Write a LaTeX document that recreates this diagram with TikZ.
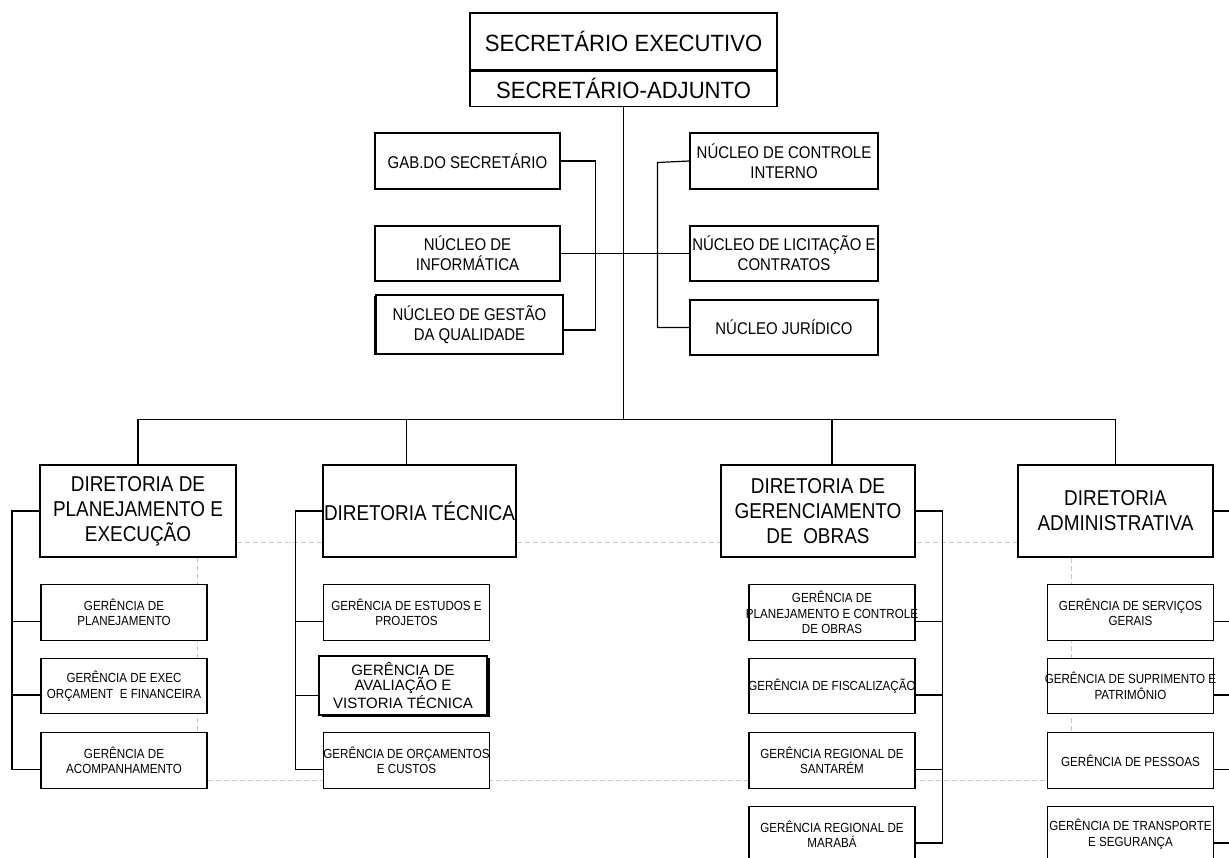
\documentclass[tikz,border=0pt]{standalone}
\usepackage{fontspec}
\setmainfont{Liberation Sans}
\newfontfamily\fTop[FakeStretch=0.94]{Liberation Sans}
\newfontfamily\fNar[FakeStretch=0.88]{Liberation Sans}
\newfontfamily\fAva{Liberation Sans}
\newcommand{\fitln}[1]{\makebox[150pt]{#1}}
\usetikzlibrary{calc,backgrounds,shadows}
\begin{document}
\begin{tikzpicture}[x=1pt,y=-1pt,
  box/.style={draw, fill=white, line width=1.2pt, align=center, inner sep=0pt},
  topbox/.style={box, minimum width=307pt, font={\fontsize{23.5}{26}\selectfont\fTop}},
  nucbox/.style={box, font={\fontsize{17}{20}\selectfont\fNar}},
  dirbox/.style={box, minimum height=92pt, font={\fontsize{21.5}{25}\selectfont\fNar}},
  gerbox/.style={box, minimum width=166pt, minimum height=55.5pt, font={\fontsize{13.2}{15.5}\selectfont\fNar}},
  heavy/.style={line width=1.8pt},
  link/.style={draw, line width=1.2pt},
  guide/.style={draw=black!22, line width=0.7pt, dash pattern=on 5pt off 3pt},
]
\useasboundingbox (0,0) rectangle (1229,858);
\clip (0,0) rectangle (1229,858);

% top
\node[topbox, minimum height=57pt] (sexe) at (623.5,41.5) {SECRETÁRIO EXECUTIVO};
\node[topbox, minimum height=35pt, anchor=north] (sadj) at (sexe.south) {SECRETÁRIO-ADJUNTO};

% nucleos
\node[nucbox, minimum width=185pt, minimum height=56pt] (gab) at (467.5,161) {GAB.DO SECRETÁRIO};
\node[nucbox, minimum width=185pt, minimum height=55pt] (info) at (467.5,253.5) {NÚCLEO DE\\INFORMÁTICA};
\node[nucbox, heavy, minimum width=187pt, minimum height=59pt,
      drop shadow={shadow xshift=-2pt, shadow yshift=-1.5pt, fill=black, opacity=1}] (gest) at (469.5,324.5) {NÚCLEO DE GESTÃO\\DA QUALIDADE};
\node[nucbox, minimum width=188pt, minimum height=56pt] (ctrl) at (784,161) {NÚCLEO DE CONTROLE\\INTERNO};
\node[nucbox, minimum width=188pt, minimum height=55pt] (lic) at (784,253.5) {NÚCLEO DE LICITAÇÃO E\\CONTRATOS};
\node[nucbox, minimum width=188pt, minimum height=55pt] (jur) at (784,327.5) {NÚCLEO JURÍDICO};

% diretorias
\node[dirbox, minimum width=196pt] (dplan) at (138,511) {DIRETORIA DE\\PLANEJAMENTO E\\EXECUÇÃO};
\node[dirbox, minimum width=193pt] (dtec) at (419.5,511) {DIRETORIA TÉCNICA};
\node[dirbox, minimum width=194pt] (dger) at (818,511) {DIRETORIA DE\\GERENCIAMENTO\\DE~~OBRAS};
\node[dirbox, minimum width=195pt] (dadm) at (1115.5,511) {DIRETORIA\\ADMINISTRATIVA};

% gerencias - planejamento
\node[gerbox] (gplan) at (124,612.5) {GERÊNCIA DE\\PLANEJAMENTO};
\node[gerbox] (gexec) at (124,686) {GERÊNCIA DE EXEC\\\fitln{ORÇAMENT~~E FINANCEIRA}};
\node[gerbox] (gacomp) at (124,760.5) {GERÊNCIA DE\\ACOMPANHAMENTO};
% tecnica
\node[gerbox] (gestud) at (406.5,612.5) {\fitln{GERÊNCIA DE ESTUDOS E}\\PROJETOS};
\node[gerbox, heavy, minimum width=168pt, minimum height=59pt,
      font={\fontsize{15}{15}\selectfont\fAva},
      drop shadow={shadow xshift=2.5pt, shadow yshift=-1.5pt, fill=black, opacity=1}] (gaval) at (403,685.5) {GERÊNCIA DE\\AVALIAÇÃO E\\VISTORIA TÉCNICA};
\node[gerbox] (gorc) at (406.5,760.5) {\fitln{GERÊNCIA DE ORÇAMENTOS}\\E CUSTOS};
% obras
\node[gerbox] (gpco) at (832,612.5) {GERÊNCIA DE\\\fitln{PLANEJAMENTO E CONTROLE}\\DE OBRAS};
\node[gerbox] (gfisc) at (832,686) {\fitln{GERÊNCIA DE FISCALIZAÇÃO}};
\node[gerbox] (gsant) at (832,760.5) {GERÊNCIA REGIONAL DE\\SANTARÉM};
\node[gerbox] (gmar) at (832,834) {GERÊNCIA REGIONAL DE\\MARABÁ};
% administrativa
\node[gerbox] (gserv) at (1130.5,612.5) {GERÊNCIA DE SERVIÇOS\\GERAIS};
\node[gerbox] (gsup) at (1130.5,686) {\fitln{GERÊNCIA DE SUPRIMENTO E}\\PATRIMÔNIO};
\node[gerbox] (gpess) at (1130.5,760.5) {GERÊNCIA DE PESSOAS};
\node[gerbox] (gtra) at (1130.5,834) {\fitln{GERÊNCIA DE TRANSPORTE}\\E SEGURANÇA};

% guides (background)
\begin{pgfonlayer}{background}
\draw[guide] ([yshift=15pt]dplan.south east) -- ([yshift=15pt]dadm.south west);
\draw[guide] ([xshift=-39pt]dplan.south east) -- ([xshift=-39pt]dplan.south east |- gacomp.north);
\draw[guide] ([xshift=54pt]dadm.south west) -- ([xshift=54pt]dadm.south west |- gpess.north);
\draw[guide] ([yshift=-19.5pt]gacomp.east) -- ([yshift=-19.5pt]gpess.west);
\end{pgfonlayer}

% main trunk
\path (sadj.south) ++(0,313) coordinate (bus);
\draw[link] (sadj.south) -- (bus);
\draw[link] (dplan.north) |- (bus) -| (dadm.north);
\coordinate (dtecN) at ([xshift=-13pt]dtec.north);
\coordinate (dgerN) at ([xshift=14pt]dger.north);
\draw[link] (dtecN) -- (dtecN |- bus);
\draw[link] (dgerN) -- (dgerN |- bus);

% nucleo links
\draw[link] (gab.east) -- ++(35,0) |- ([yshift=-5.5pt]gest.east);
\draw[link] (info.east) -- (lic.west);
\draw[link] (ctrl.west) -- ++(-32,1.5) |- (jur.west);

% planejamento
\draw[link] (dplan.west) -- ++(-27.5,0) |- ([yshift=-9pt]gacomp.west);
\draw[link] ([yshift=-9pt]gplan.west) -- ++(-28.5,0);
\draw[link] ([yshift=-9pt]gexec.west) -- ++(-28.5,0);
% tecnica
\draw[link] (dtec.west) -- ++(-27,0) |- ([yshift=-9pt]gorc.west);
\draw[link] ([yshift=-9pt]gestud.west) -- ++(-27,0);
\draw[link] ([yshift=-10pt]gaval.west) -- ++(-23,0);
% obras
\draw[link] (dger.east) -- ++(27,0) |- ([yshift=-9pt]gmar.east);
\draw[link] ([yshift=-9pt]gpco.east) -- ++(27,0);
\draw[link] ([yshift=-9pt]gfisc.east) -- ++(27,0);
\draw[link] ([yshift=-9pt]gsant.east) -- ++(27,0);
% administrativa
\draw[link] (dadm.east) -- ++(32,0) |- ([yshift=-9pt]gtra.east);
\draw[link] ([yshift=-9pt]gserv.east) -- ++(31,0);
\draw[link] ([yshift=-9pt]gsup.east) -- ++(31,0);
\draw[link] ([yshift=-9pt]gpess.east) -- ++(31,0);
\end{tikzpicture}
\end{document}
